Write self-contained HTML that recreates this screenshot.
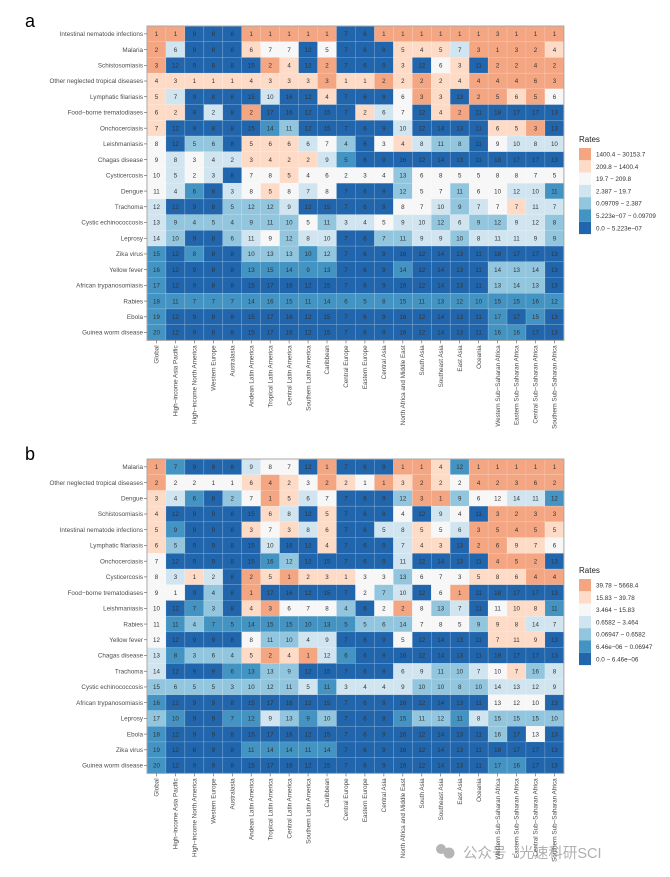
<!DOCTYPE html>
<html>
<head>
<meta charset="utf-8">
<style>
  html,body{margin:0;padding:0;background:#fff;}
  svg{display:block;font-family:"Liberation Sans","Noto Sans CJK SC",sans-serif;}
</style>
</head>
<body>
<svg id="chart" width="670" height="877" viewBox="0 0 670 877" xmlns="http://www.w3.org/2000/svg">
  <g>
    <circle cx="441" cy="849" r="5" fill="#b5b5b5"/>
    <circle cx="449" cy="853" r="5.5" fill="#b5b5b5"/>
    <text x="463" y="858" font-size="14.5" fill="#b0b0b0" font-family="Liberation Sans, Noto Sans CJK SC, sans-serif">公众号 · 光速科研SCI</text>
  </g>
</svg>
<script>
const columns = ["Global","High−income Asia Pacific","High−income North America","Western Europe","Australasia","Andean Latin America","Tropical Latin America","Central Latin America","Southern Latin America","Caribbean","Central Europe","Eastern Europe","Central Asia","North Africa and Middle East","South Asia","Southeast Asia","East Asia","Oceania","Western Sub−Saharan Africa","Eastern Sub−Saharan Africa","Central Sub−Saharan Africa","Southern Sub−Saharan Africa"];

const rowsA = ["Intestinal nematode infections","Malaria","Schistosomiasis","Other neglected tropical diseases","Lymphatic filariasis","Food−borne trematodiases","Onchocerciasis","Leishmaniasis","Chagas disease","Cysticercosis","Dengue","Trachoma","Cystic echinococcosis","Leprosy","Zika virus","Yellow fever","African trypanosomiasis","Rabies","Ebola","Guinea worm disease"];

const rankA = [
[1,1,9,8,8,1,1,1,1,1,7,6,1,1,1,1,1,1,3,1,1,1],
[2,6,9,8,8,6,7,7,12,5,7,6,9,5,4,5,7,3,1,3,2,4],
[3,12,9,8,8,15,2,4,12,2,7,6,9,3,12,6,3,11,2,2,4,2],
[4,3,1,1,1,4,3,3,3,3,1,1,2,2,2,2,4,4,4,4,6,3],
[5,7,9,8,8,15,10,16,12,4,7,6,9,6,3,3,13,2,5,6,5,6],
[6,2,9,2,8,2,17,16,12,15,7,2,6,7,12,4,2,11,18,17,17,13],
[7,12,9,8,8,15,14,11,12,15,7,6,9,10,12,14,13,11,6,5,3,13],
[8,12,5,6,8,5,6,6,6,7,4,6,3,4,8,11,8,11,9,10,8,10],
[9,8,3,4,2,3,4,2,2,9,5,6,9,16,12,14,13,11,18,17,17,13],
[10,5,2,3,8,7,8,5,4,6,2,3,4,13,6,8,5,5,8,8,7,5],
[11,4,6,8,3,8,5,8,7,8,7,6,9,12,5,7,11,6,10,12,10,11],
[12,12,9,8,5,12,12,9,12,15,7,6,9,8,7,10,9,7,7,7,11,7],
[13,9,4,5,4,9,11,10,5,11,3,4,5,9,10,12,6,9,12,9,12,8],
[14,10,9,8,6,11,9,12,8,10,7,6,7,11,9,9,10,8,11,11,9,9],
[15,12,8,8,8,10,13,13,10,12,7,6,9,16,12,14,13,11,18,17,17,13],
[16,12,9,8,8,13,15,14,9,13,7,6,9,14,12,14,13,11,14,13,14,13],
[17,12,9,8,8,15,17,16,12,15,7,6,9,16,12,14,13,11,13,14,13,13],
[18,11,7,7,7,14,16,15,11,14,6,5,8,15,11,13,12,10,15,15,16,12],
[19,12,9,8,8,15,17,16,12,15,7,6,9,16,12,14,13,11,17,17,15,13],
[20,12,9,8,8,15,17,16,12,15,7,6,9,16,12,14,13,11,16,16,17,13]
];

const binA = [
"6600066666006666666666","6300054404000555366665","6000006506000504506666","5555555556556565566666",
"5300003005000465066564","5503060000053405600000","5000001200000300005560","4022055534204532204333",
"4343355553100000000000","4343044544444244444444","4310345434000244244331","3000222300000443234533",
"3222222242334332322332","3200234233002233233332","1010022212000000000000","1000011111000100002220",
"1000000000000000002220","1111111111111111111111","1000000000000000001010","1000000000000000001100"
];

const legendA = ["1400.4 − 30153.7","209.8 − 1400.4","19.7 − 209.8","2.387 − 19.7","0.09709 − 2.387","5.223e−07 − 0.09709","0.0 − 5.223e−07"];

const rowsB = ["Malaria","Other neglected tropical diseases","Dengue","Schistosomiasis","Intestinal nematode infections","Lymphatic filariasis","Onchocerciasis","Cysticercosis","Food−borne trematodiases","Leishmaniasis","Rabies","Yellow fever","Chagas disease","Trachoma","Cystic echinococcosis","African trypanosomiasis","Leprosy","Ebola","Zika virus","Guinea worm disease"];

const rankB = [
[1,7,9,9,8,9,8,7,12,1,7,6,9,1,1,4,12,1,1,1,1,1],
[2,2,2,1,1,6,4,2,3,2,2,1,1,3,2,2,2,4,2,3,6,2],
[3,4,6,8,2,7,1,5,6,7,7,6,9,12,3,1,9,6,12,14,11,12],
[4,12,9,9,8,15,6,8,12,5,7,6,9,4,12,9,4,11,3,2,3,3],
[5,9,9,9,8,3,7,3,8,6,7,6,5,8,5,5,6,3,5,4,5,5],
[6,5,9,9,8,15,10,16,12,4,7,6,9,7,4,3,13,2,6,9,7,6],
[7,12,9,9,8,15,16,12,12,15,7,6,9,11,12,14,13,11,4,5,2,13],
[8,3,1,2,8,2,5,1,2,3,1,3,3,13,6,7,3,5,8,6,4,4],
[9,1,9,4,8,1,17,16,12,15,7,2,7,10,12,6,1,11,18,17,17,13],
[10,12,7,3,8,4,3,6,7,8,4,6,2,2,8,13,7,11,11,10,8,11],
[11,11,4,7,5,14,15,15,10,13,5,5,6,14,7,8,5,9,9,8,14,7],
[12,12,9,9,8,8,11,10,4,9,7,6,9,5,12,14,13,11,7,11,9,13],
[13,8,3,6,4,5,2,4,1,12,6,6,9,16,12,14,13,11,18,17,17,13],
[14,12,9,9,6,13,13,9,12,15,7,6,9,6,9,11,10,7,10,7,16,8],
[15,6,5,5,3,10,12,11,5,11,3,4,4,9,10,10,8,10,14,13,12,9],
[16,12,9,9,8,15,17,16,12,15,7,6,9,16,12,14,13,11,13,12,10,13],
[17,10,9,9,7,12,9,13,9,10,7,6,8,15,11,12,11,8,15,15,15,10],
[18,12,9,9,8,15,17,16,12,15,7,6,9,16,12,14,13,11,16,17,13,13],
[19,12,8,9,8,11,14,14,11,14,7,6,9,16,12,14,13,11,18,17,17,13],
[20,12,9,9,8,15,17,16,12,15,7,6,9,16,12,14,13,11,17,16,17,13]
];

const binB = [
"6100034406000665166666","6444456546546565466666","5310246534000266244331","5000005305000403406666",
"5100054535003354366665","5200003005000355066554","4000001200000300006660","4353065655544244455566",
"4402060000042304600000","4012056444204642304551","4121111111122244425533","4000042233000400005550",
"3122256563100000000000","3000112200000332234523","2222222231333322223333","1000000000000000004440",
"2100113212000122132222","1000000000000000002040","1000011111000000000000","1000000000000000001100"
];

const legendB = ["39.78 − 5668.4","15.83 − 39.78","3.464 − 15.83","0.6582 − 3.464","0.06947 − 0.6582","6.46e−06 − 0.06947","0.0 − 6.46e−06"];

const palette = ["#2166ac","#4393c3","#92c5de","#d1e5f0","#f7f7f7","#fddbc7","#f4a582"];

const NS = "http://www.w3.org/2000/svg";
const svg = document.getElementById("chart");
const X0 = 147, CW = 18.95, RH = 15.72;

function mk(tag, attrs, parent){
  const e = document.createElementNS(NS, tag);
  for (const k in attrs) e.setAttribute(k, attrs[k]);
  parent.appendChild(e);
  return e;
}

function drawPanel(letter, y0, rows, ranks, bins, legendLabels, legendTop){
  const g = mk("g", {}, svg);
  
  
  const xPos = c => X0 + c * CW;
  const yPos = r => y0 + r * RH;
  const W = columns.length * CW, H = rows.length * RH;

  const lt = mk("text", {x: 25, y: y0 + 1, "font-size": 18, fill: "#000"}, g);
  lt.textContent = letter;
  
  

  // cells
  for (let r = 0; r < rows.length; r++){
    for (let c = 0; c < columns.length; c++){
      const b = +bins[r][c];
      const rect = mk("rect", {x: xPos(c), y: yPos(r), width: CW, height: RH, fill: palette[b], stroke: "rgba(255,255,255,0.25)", "stroke-width": 0.5}, g);
      
      
      const t = mk("text", {x: xPos(c) + CW/2, y: yPos(r) + RH/2 + 2.2, "font-size": 6.2, "text-anchor": "middle", fill: "#333"}, g);
      t.textContent = ranks[r][c];
      
      
    }
  }
  const frame = mk("rect", {x: X0, y: y0, width: W, height: H, fill: "none", stroke: "#a8a8a8", "stroke-width": 1}, g);
  
  

  // row labels
  for (let r = 0; r < rows.length; r++){
    const yc = yPos(r) + RH/2;
    mk("line", {x1: X0 - 3, x2: X0, y1: yc, y2: yc, stroke: "#555", "stroke-width": 0.6}, g);
    const t = mk("text", {x: X0 - 4, y: yc + 2.2, "font-size": 6.3, "text-anchor": "end", fill: "#4d4d4d"}, g);
    t.textContent = rows[r];
    
    
  }
  // column labels
  for (let c = 0; c < columns.length; c++){
    const xc = xPos(c) + CW/2;
    mk("line", {x1: xc, x2: xc, y1: y0 + H, y2: y0 + H + 3, stroke: "#555", "stroke-width": 0.6}, g);
    const t = mk("text", {x: 0, y: 0, "font-size": 6.3, "text-anchor": "end", fill: "#4d4d4d",
      transform: "translate(" + (xc + 2.2) + "," + (y0 + H + 5) + ") rotate(-90)"}, g);
    t.textContent = columns[c];
    
    
  }
  // legend
  const lg = mk("g", {}, g);
  
  
  const tt = mk("text", {x: 579, y: legendTop - 6, "font-size": 8, fill: "#222"}, lg);
  tt.textContent = "Rates";
  
  
  for (let i = 0; i < legendLabels.length; i++){
    const ky = legendTop + i * 12.3;
    const k = mk("rect", {x: 579, y: ky, width: 12, height: 12.3, fill: palette[6 - i]}, lg);
    
    
    const lt2 = mk("text", {x: 596, y: ky + 8.5, "font-size": 6.3, fill: "#333"}, lg);
    lt2.textContent = legendLabels[i];
    
    
  }
}

drawPanel("a", 26, rowsA, rankA, binA, legendA, 148);
drawPanel("b", 459, rowsB, rankB, binB, legendB, 579);
</script>
</body>
</html>
